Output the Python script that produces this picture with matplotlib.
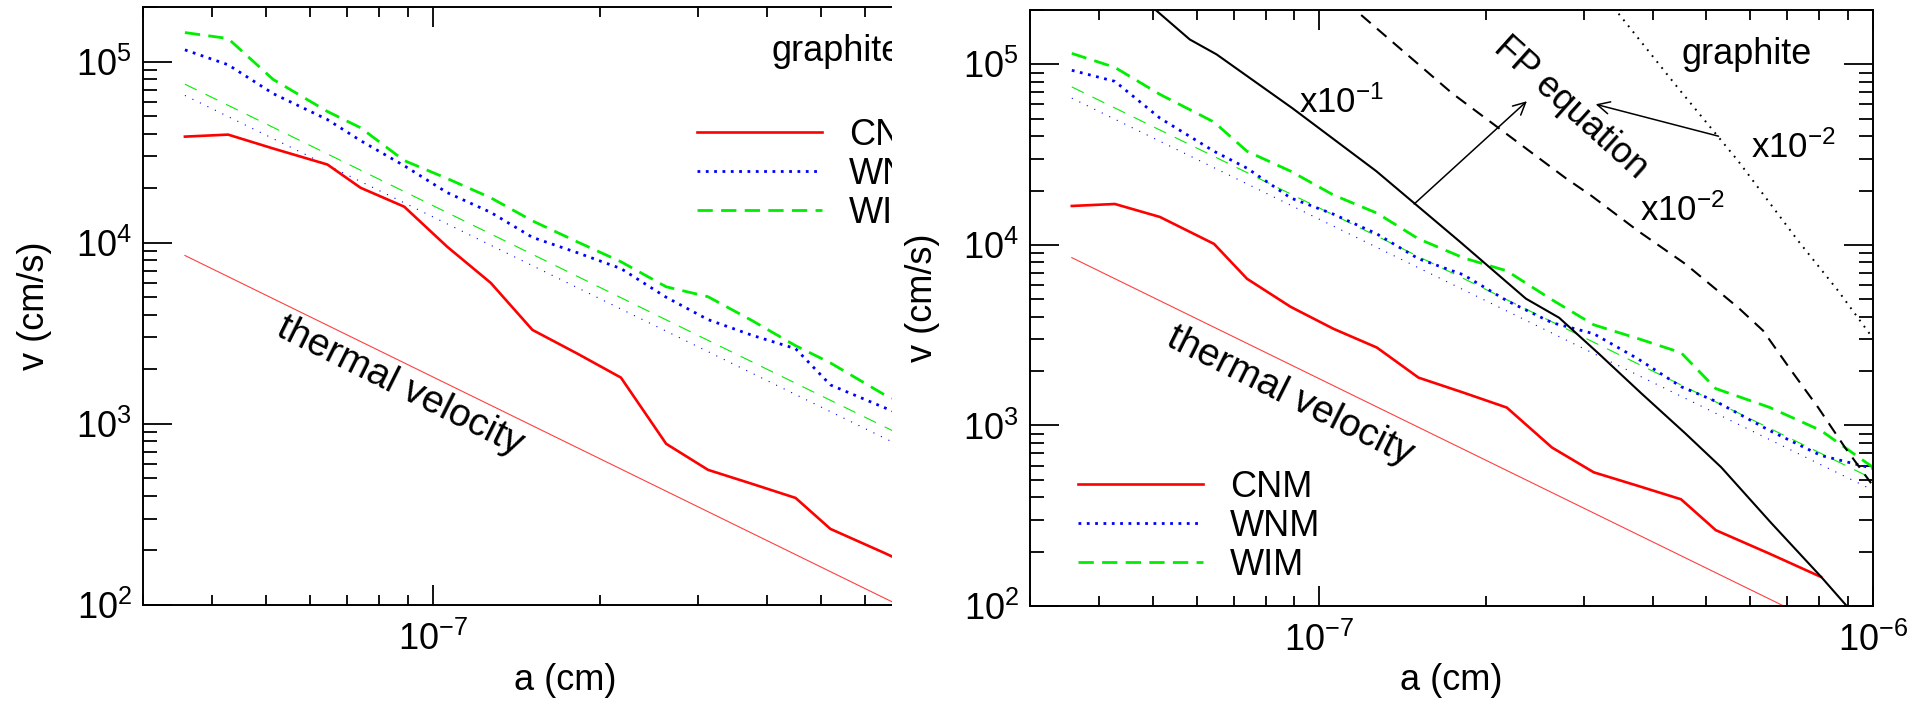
import numpy as np
import matplotlib
matplotlib.use("Agg")
import matplotlib.pyplot as plt
from matplotlib.ticker import (LogLocator, FixedLocator, NullFormatter,
                               LogFormatterSciNotation)
from matplotlib.patches import Rectangle

plt.rcParams['font.family'] = ['Liberation Sans', 'DejaVu Sans']
plt.rcParams['mathtext.fontset'] = 'custom'
plt.rcParams['mathtext.rm'] = 'Liberation Sans'
plt.rcParams['mathtext.it'] = 'Liberation Sans:italic'
plt.rcParams['mathtext.bf'] = 'Liberation Sans:bold'
plt.rcParams['mathtext.default'] = 'regular'
plt.rcParams['lines.scale_dashes'] = False

nan = np.nan

# grain radius grid (cm)
size_cm = [3.57e-8, 4.27e-8, 5.15e-8, 6.45e-8, 7.4e-8, 8.87e-8, 1.06e-7, 1.27e-7,
           1.51e-7, 1.82e-7, 2.18e-7, 2.63e-7, 3.13e-7, 3.76e-7, 4.5e-7, 5.2e-7,
           6.5e-7, 8.05e-7, 1.0e-6]

# left panel: grain velocities (cm/s)
cnm_left = [3.85e4, 3.95e4, 3.31e4, 2.70e4, 2.01e4, 1.58e4, 9.5e3, 6.0e3, 3.30e3,
            2.44e3, 1.80e3, 7.76e2, 5.57e2, 4.66e2, 3.90e2, 2.63e2, 1.94e2, 1.43e2, nan]
wnm_left = [1.16e5, 9.6e4, 6.65e4, 4.78e4, 3.66e4, 2.66e4, 1.89e4, 1.47e4, 1.07e4,
            8.8e3, 7.2e3, 5.0e3, 3.76e3, 3.08e3, 2.6e3, 1.64e3, 1.23e3, 9.4e2, nan]
wim_left = [1.445e5, 1.34e5, 7.96e4, 5.30e4, 4.31e4, 2.84e4, 2.26e4, 1.77e4, 1.32e4,
            1.01e4, 7.85e3, 5.71e3, 5.03e3, 3.71e3, 2.70e3, 2.17e3, 1.45e3, 1.1e3, nan]

# right panel: grain velocities (cm/s)
cnm_right = [1.643e4, 1.685e4, 1.428e4, 1.013e4, 6.49e3, 4.54e3, 3.43e3, 2.70e3, 1.84e3,
             1.52e3, 1.256e3, 7.55e2, 5.5e2, 4.63e2, 3.9e2, 2.63e2, 1.95e2, 1.45e2, nan]
wnm_right = [9.27e4, 8.05e4, 5.04e4, 3.30e4, 2.66e4, 1.82e4, 1.48e4, 1.15e4, 8.38e3,
             6.83e3, 4.91e3, 3.71e3, 3.22e3, 2.34e3, 1.64e3, 1.36e3, 9.38e2, 6.82e2, 5.78e2]
wim_right = [1.15e5, 9.62e4, 6.82e4, 4.79e4, 3.30e4, 2.56e4, 1.89e4, 1.50e4, 1.08e4,
             8.48e3, 7.18e3, 4.97e3, 3.61e3, 3.03e3, 2.53e3, 1.60e3, 1.26e3, 9.38e2, 5.86e2]

# reference power laws (a^-1.5): thermal velocity and comparison models
ref_a = [3.57e-8, 1.0e-6]
thermal_v = [8.5e3, 57.3]
wnm_ref_v = [6.5e4, 4.38e2]
wim_ref_v = [7.5e4, 5.06e2]

# Fokker-Planck estimates (scaled)
fp1_a = [4.8e-8, 5.83e-8, 6.52e-8, 8.94e-8, 1.267e-7, 1.788e-7, 2.36e-7, 2.71e-7,
         3.195e-7, 3.82e-7, 4.58e-7, 5.32e-7, 6.55e-7, 8.06e-7, 8.94e-7, 9.8e-7]
fp1_v = [2.3e5, 1.374e5, 1.135e5, 5.71e4, 2.56e4, 1.05e4, 5.04e3, 3.95e3,
         2.50e3, 1.50e3, 9.04e2, 5.86e2, 2.88e2, 1.45e2, 1.01e2, 74]
fp2_a = [1.114e-7, 1.736e-7, 2.787e-7, 3.10e-7, 3.77e-7, 4.58e-7, 5.71e-7, 6.33e-7,
         7.12e-7, 7.96e-7, 8.90e-7, 9.92e-7]
fp2_v = [2.23e5, 6.92e4, 2.34e4, 1.87e4, 1.19e4, 7.85e3, 4.49e3, 3.35e3,
         2.01e3, 1.257e3, 7.55e2, 4.79e2]
fp3_a = [3.34e-7, 3.47e-7, 4.45e-7, 5.71e-7, 7.33e-7, 8.65e-7, 9.92e-7]
fp3_v = [2.23e5, 1.91e5, 7.36e4, 2.91e4, 1.05e4, 5.57e3, 3.14e3]

RED, BLUE, GREEN = '#ff0000', '#0000ff', '#00ee00'
FS = 26

W, H = 1929, 707
fig = plt.figure(figsize=(W / 100, H / 100), dpi=100)
axL = fig.add_axes([143 / W, (H - 605) / H, 845 / W, 598 / H])
axR = fig.add_axes([1030 / W, (H - 606) / H, 843 / W, 596 / H])
axL.set_zorder(1)
axR.set_zorder(3)


def draw_common(ax, cnm, wnm, wim):
    ax.plot(ref_a, thermal_v, color='#ff4040', lw=0.8)
    ax.plot(ref_a, wnm_ref_v, color=BLUE, lw=0.8, dashes=(0.8, 5.2))
    ax.plot(ref_a, wim_ref_v, color=GREEN, lw=0.8, dashes=(9.5, 7.0))
    ax.plot(size_cm, cnm, color=RED, lw=1.9, label='CNM')
    ax.plot(size_cm, wnm, color=BLUE, lw=2.0, dashes=(2.0, 4.0), label='WNM')
    ax.plot(size_cm, wim, color=GREEN, lw=2.0, dashes=(11, 6), label='WIM')


def style_axes(ax, right_ticks):
    ax.set_xscale('log')
    ax.set_yscale('log')
    ax.set_xlim(3e-8, 1e-6)
    ax.set_ylim(100, 2e5)
    ax.xaxis.set_major_locator(LogLocator(base=10, numticks=10))
    ax.xaxis.set_minor_locator(LogLocator(base=10, subs=np.arange(2, 10), numticks=20))
    ax.yaxis.set_major_locator(LogLocator(base=10, numticks=10))
    ax.yaxis.set_minor_locator(LogLocator(base=10, subs=np.arange(2, 10), numticks=20))
    ax.xaxis.set_major_formatter(LogFormatterSciNotation())
    ax.yaxis.set_major_formatter(LogFormatterSciNotation())
    ax.xaxis.set_minor_formatter(NullFormatter())
    ax.yaxis.set_minor_formatter(NullFormatter())
    ax.tick_params(axis='both', which='both', direction='in', top=True,
                   right=right_ticks, width=1.3, colors='black', labelsize=FS)
    ax.tick_params(axis='y', which='major', length=21, pad=8)
    ax.tick_params(axis='y', which='minor', length=10)
    ax.tick_params(axis='x', which='major', length=14.5, pad=12)
    ax.tick_params(axis='x', which='minor', length=7)
    for s in ax.spines.values():
        s.set_linewidth(1.4)
    ax.set_xlabel('a (cm)', fontsize=FS)
    ax.set_ylabel('v (cm/s)', fontsize=FS)


legend_kw = dict(loc='upper left', frameon=False, fontsize=FS, handlelength=3.46,
                 handletextpad=0.75, labelspacing=0.11, borderpad=0, borderaxespad=0)

# left panel (its right-hand part is cropped away)
draw_common(axL, cnm_left, wnm_left, wim_left)
style_axes(axL, right_ticks=False)
axL.xaxis.set_major_locator(FixedLocator([1e-7]))
axL.spines['right'].set_visible(False)
axL.xaxis.set_label_coords(0.5, -0.097)
axL.yaxis.set_label_coords(-0.1077, 0.5)
axL.text(4.08e-7, 1.01e5, 'graphite', fontsize=FS, ha='left', va='baseline')
axL.text(8.71e-8, 1.62e3, 'thermal velocity', fontsize=28, rotation=-26.5,
         rotation_mode='anchor', ha='center', va='center')
axL.legend(bbox_to_anchor=(0.6556, 0.815), **legend_kw)

# right panel
draw_common(axR, cnm_right, wnm_right, wim_right)
axR.plot(fp1_a, fp1_v, color='black', lw=1.5)
axR.plot(fp2_a, fp2_v, color='black', lw=1.5, dashes=(9, 6))
axR.plot(fp3_a, fp3_v, color='black', lw=1.4, dashes=(1.3, 4.2))
style_axes(axR, right_ticks=True)
axR.xaxis.set_label_coords(0.5, -0.0956)
axR.yaxis.set_label_coords(-0.1068, 0.517)
axR.text(4.51e-7, 1.01e5, 'graphite', fontsize=FS, ha='left', va='baseline')
axR.text(8.83e-8, 1.46e3, 'thermal velocity', fontsize=28, rotation=-26.5,
         rotation_mode='anchor', ha='center', va='center')
axR.text(2.84e-7, 5.71e4, 'FP equation', fontsize=FS, rotation=-42,
         rotation_mode='anchor', ha='center', va='center')
axR.text(9.2e-8, 5.36e4, r'x10$^{-1}$', fontsize=FS - 1, ha='left', va='baseline')
axR.text(3.80e-7, 1.36e4, r'x10$^{-2}$', fontsize=FS - 1, ha='left', va='baseline')
axR.text(6.03e-7, 3.03e4, r'x10$^{-2}$', fontsize=FS - 1, ha='left', va='baseline')
arrow = dict(arrowstyle='->', color='black', lw=1.1, mutation_scale=22,
             shrinkA=0, shrinkB=0)
axR.annotate('', xy=(2.37e-7, 6.25e4), xytext=(1.483e-7, 1.685e4), arrowprops=arrow)
axR.annotate('', xy=(3.155e-7, 6.01e4), xytext=(5.26e-7, 4.0e4), arrowprops=arrow)
axR.legend(bbox_to_anchor=(0.0569, 0.228), **legend_kw)

# white strip that crops the left panel
fig.add_artist(Rectangle((892 / W, 0), (1029 - 892) / W, 1, transform=fig.transFigure,
                         facecolor='white', edgecolor='none', zorder=2))

fig.savefig('out.png', dpi=100, facecolor='white')
